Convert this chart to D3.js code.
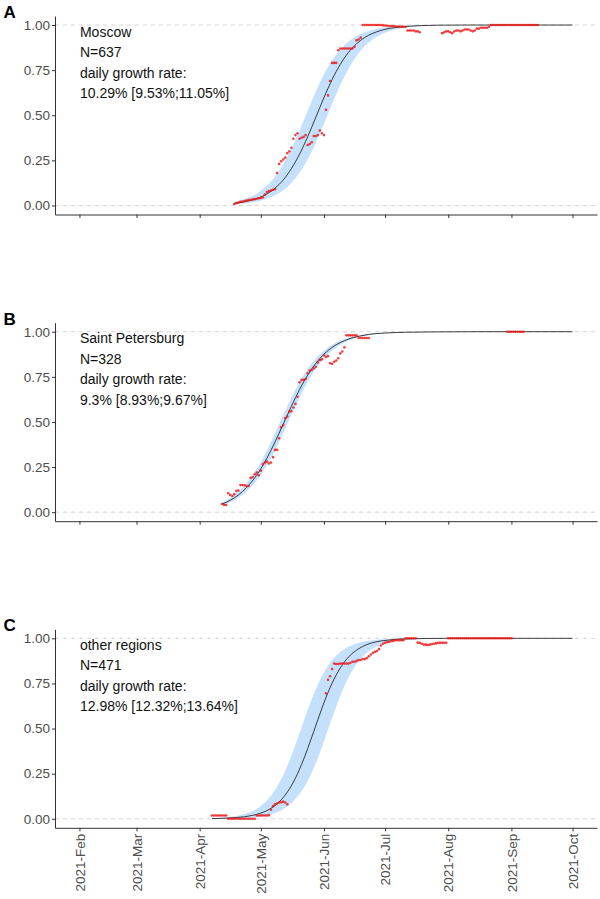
<!DOCTYPE html>
<html>
<head>
<meta charset="utf-8">
<script src="https://cdn.jsdelivr.net/npm/d3@7"></script>
<style>
  body { margin: 0; background: #fff; }
  svg { display: block; font-family: Arial, "Liberation Sans", sans-serif; }
</style>
</head>
<body>
<svg id="chart" width="600" height="899"></svg>
<script>
// ---- data ----
const panelLetters = ["A", "B", "C"];
const regionNames = ["Moscow", "Saint Petersburg", "other regions"];
const regionN = ["N=637", "N=328", "N=471"];
const growthRates = ["10.29% [9.53%;11.05%]", "9.3% [8.93%;9.67%]", "12.98% [12.32%;13.64%]"];

const yTicks = [0, 0.25, 0.5, 0.75, 1];
const monthTicks = ["2021-02-01", "2021-03-01", "2021-04-01", "2021-05-01", "2021-06-01",
                    "2021-07-01", "2021-08-01", "2021-09-01", "2021-10-01"];

// fitted curve + ribbon
const moscowFitDates = ["2021-04-18","2021-04-22","2021-04-26","2021-04-30","2021-05-04","2021-05-08","2021-05-12",
  "2021-05-16","2021-05-20","2021-05-24","2021-05-28","2021-06-01","2021-06-05","2021-06-09","2021-06-13","2021-06-17",
  "2021-06-21","2021-06-25","2021-06-29","2021-07-03","2021-07-07","2021-07-11","2021-07-19","2021-07-27","2021-08-10",
  "2021-08-30","2021-10-01"];
const moscowFit = [0.012,0.018,0.028,0.042,0.064,0.096,0.141,0.204,0.284,0.381,0.489,0.598,0.698,0.782,0.848,0.896,
  0.931,0.954,0.970,0.981,0.987,0.992,0.997,0.999,1,1,1];
const moscowHi = [0.021,0.032,0.048,0.073,0.109,0.160,0.228,0.314,0.416,0.525,0.632,0.727,0.805,0.865,0.909,0.939,
  0.960,0.974,0.983,0.989,0.993,0.995,0.998,0.999,1,1,1];
const moscowLo = [0.007,0.010,0.016,0.024,0.037,0.056,0.084,0.125,0.181,0.256,0.348,0.453,0.563,0.667,0.756,0.828,
  0.882,0.921,0.948,0.966,0.978,0.985,0.994,0.998,0.9995,1,1];

const spbFitDates = ["2021-04-12","2021-04-16","2021-04-20","2021-04-24","2021-04-28","2021-05-02","2021-05-06",
  "2021-05-10","2021-05-14","2021-05-18","2021-05-22","2021-05-26","2021-05-30","2021-06-03","2021-06-07","2021-06-11",
  "2021-06-15","2021-06-19","2021-06-23","2021-06-27","2021-07-01","2021-07-11","2021-07-26","2021-08-10","2021-08-30",
  "2021-10-01"];
const spbFit = [0.045,0.066,0.095,0.136,0.190,0.259,0.343,0.438,0.537,0.634,0.721,0.794,0.852,0.896,0.928,0.950,
  0.966,0.977,0.985,0.990,0.993,0.997,0.999,1,1,1];
const spbHi = [0.055,0.079,0.114,0.161,0.223,0.299,0.389,0.488,0.587,0.679,0.760,0.825,0.875,0.913,0.940,0.959,
  0.972,0.981,0.987,0.991,0.994,0.998,0.9995,1,1,1];
const spbLo = [0.037,0.055,0.079,0.114,0.161,0.223,0.299,0.389,0.488,0.587,0.679,0.760,0.825,0.875,0.913,0.940,
  0.959,0.972,0.981,0.987,0.991,0.997,0.999,1,1,1];

const otherFitDates = ["2021-04-07","2021-04-11","2021-04-15","2021-04-19","2021-04-23","2021-04-27","2021-05-01",
  "2021-05-05","2021-05-09","2021-05-13","2021-05-17","2021-05-21","2021-05-25","2021-05-29","2021-06-02","2021-06-06",
  "2021-06-10","2021-06-14","2021-06-18","2021-06-22","2021-06-26","2021-06-30","2021-07-04","2021-07-08","2021-07-12",
  "2021-07-21","2021-07-31","2021-08-15","2021-09-04","2021-10-01"];
const otherFit = [0.001,0.002,0.004,0.007,0.011,0.019,0.031,0.051,0.083,0.132,0.203,0.301,0.420,0.549,0.672,0.775,
  0.853,0.907,0.942,0.965,0.979,0.987,0.992,0.996,0.997,0.999,1,1,1,1];
const otherHi = [0.003,0.006,0.009,0.016,0.026,0.043,0.071,0.114,0.177,0.266,0.379,0.507,0.633,0.744,0.830,0.892,
  0.933,0.959,0.975,0.985,0.991,0.995,0.997,0.998,0.999,1,1,1,1,1];
const otherLo = [0.001,0.001,0.002,0.003,0.005,0.008,0.013,0.022,0.036,0.060,0.097,0.152,0.232,0.337,0.461,0.590,
  0.708,0.803,0.873,0.920,0.951,0.970,0.982,0.989,0.994,0.998,0.9995,1,1,1];

// observed daily proportions, in runs of consecutive days
const moscowRunStarts = ["2021-04-18", "2021-07-29"];
const moscowRunValues = [
  [0.008,0.012,0.016,0.02,0.022,0.025,0.027,0.03,0.032,0.034,0.035,0.037,0.04,0.042,
   0.045,0.06,0.074,0.08,0.083,0.087,0.09,
   0.18,0.23,0.245,0.255,0.265,0.29,0.30,0.32,0.37,0.39,0.40,
   0.37,0.375,0.38,0.39,0.335,0.34,0.35,0.385,0.385,0.39,0.415,0.40,0.39,
   0.53,0.61,0.69,0.79,0.79,0.79,0.86,0.87,0.87,0.87,0.87,0.87,0.87,0.87,0.88,0.915,0.92,0.93,
   1,1,1,1,1,1,1,1,1,1,
   0.998,0.997,0.996,0.995,0.995,0.994,0.993,0.992,0.992,0.991,0.99,0.99,
   0.97,0.97,0.97,0.97,0.965,0.965,0.96],
  [0.955,0.96,0.965,0.965,0.96,0.955,0.965,0.97,0.97,0.965,0.97,0.975,0.975,0.975,0.97,0.965,
   0.97,0.98,0.98,0.985,0.985,0.985,0.985,0.99,
   1,1,1,1,1,1,1,1,1,1,1,1,1,1,1,1,1,1,1,1,1,1,1,1]
];

const spbRunStarts = ["2021-04-12", "2021-08-30"];
const spbRunValues = [
  [0.045,0.04,0.04,0.105,0.095,0.09,0.1,0.118,0.12,
   0.15,0.15,0.15,0.145,0.145,0.19,0.195,0.21,0.22,0.205,
   0.23,0.265,0.275,0.28,0.27,0.275,0.305,0.345,0.345,
   0.41,0.47,0.483,0.52,0.53,0.557,0.56,0.58,0.60,0.64,
   0.72,0.733,0.733,0.738,0.77,0.785,0.788,0.797,0.806,0.83,0.843,0.847,0.87,0.86,0.865,
   0.825,0.822,0.834,0.84,0.853,0.88,0.89,0.913,
   0.98,0.98,0.98,0.98,0.98,0.98,
   0.965,0.965,0.965,0.965,0.965,0.965],
  [1,1,1,1,1,1,1,1,1]
];

const otherRunStarts = ["2021-04-07", "2021-06-02"];
const otherRunValues = [
  [0.018,0.018,0.018,0.018,0.018,0.018,0.018,0.018,
   0,0,0,0,0,0,0,0,0,0,0,0,0,0,
   0.018,0.018,0.018,0.018,0.018,0.018,0.02,
   0.05,0.07,0.08,0.085,0.09,0.092,0.095,0.09,0.08],
  [0.695,0.77,0.79,0.83,0.86,
   0.858,0.858,0.86,0.86,0.86,0.86,0.86,0.865,0.87,0.87,0.875,0.88,0.88,0.885,0.885,0.89,0.9,0.91,0.92,0.925,0.93,
   0.94,0.96,0.97,0.975,0.98,0.98,0.985,0.985,0.99,0.99,0.99,0.99,0.99,
   1,1,1,1,1,1,
   0.976,0.975,0.97,0.965,0.965,0.963,0.965,0.968,0.97,0.972,0.975,0.975,0.975,0.975,0.975,
   1,1,1,1,1,1,1,1,1,1,1,1,1,1,1,1,1,1,1,1,1,1,1,1,1,1,1,1,1,1,1,1]
];

// ---- build panels ----
const parse = d3.utcParse("%Y-%m-%d");

function fitTable(dates, fit, lo, hi) {
  return dates.map((d, i) => ({ date: parse(d), fit: fit[i], lo: lo[i], hi: hi[i] }));
}
function pointTable(starts, runs) {
  const out = [];
  starts.forEach((s, r) => {
    runs[r].forEach((v, i) => out.push({ date: d3.utcDay.offset(parse(s), i), value: v }));
  });
  return out;
}

const panels = [
  { fit: fitTable(moscowFitDates, moscowFit, moscowLo, moscowHi), pts: pointTable(moscowRunStarts, moscowRunValues) },
  { fit: fitTable(spbFitDates, spbFit, spbLo, spbHi), pts: pointTable(spbRunStarts, spbRunValues) },
  { fit: fitTable(otherFitDates, otherFit, otherLo, otherHi), pts: pointTable(otherRunStarts, otherRunValues) }
];

const panelTops = [16, 322.7, 629.3];
const plotH = 198.5;
const left = 55, right = 597;

const svg = d3.select("#chart");

const x = d3.scaleUtc()
  .domain([parse("2021-01-20"), parse("2021-10-13")])
  .range([left, right]);

panels.forEach((p, k) => {
  const top = panelTops[k];
  const bottom = top + plotH;
  const y = d3.scaleLinear().domain([-0.05, 1.05]).range([bottom, top]);
  const g = svg.append("g");

  // dashed reference lines at 0 and 1
  g.selectAll("line.ref")
    .data([0, 1])
    .join("line")
    .attr("x1", left).attr("x2", right)
    .attr("y1", d => y(d)).attr("y2", d => y(d))
    .attr("stroke", "#cfcfcf")
    .attr("stroke-width", 0.9)
    .attr("stroke-dasharray", "4,4");

  // ribbon
  const area = d3.area()
    .curve(d3.curveMonotoneX)
    .x(d => x(d.date))
    .y0(d => y(d.lo))
    .y1(d => y(d.hi));
  g.append("path")
    .datum(p.fit)
    .attr("fill", "#c5e0fa")
    .attr("d", area);

  // fitted curve
  const line = d3.line()
    .curve(d3.curveMonotoneX)
    .x(d => x(d.date))
    .y(d => y(d.fit));
  g.append("path")
    .datum(p.fit)
    .attr("fill", "none")
    .attr("stroke", "#111")
    .attr("stroke-width", 0.8)
    .attr("d", line);

  // observed points
  g.selectAll("circle")
    .data(p.pts)
    .join("circle")
    .attr("cx", d => x(d.date))
    .attr("cy", d => y(d.value))
    .attr("r", 1.3)
    .attr("fill", "#ee1111")
    .attr("fill-opacity", 0.8);

  // axes
  const yAxis = g.append("g")
    .attr("transform", "translate(" + left + ",0)")
    .call(d3.axisLeft(y).tickValues(yTicks).tickFormat(d3.format(".2f")).tickSize(3).tickSizeOuter(0).tickPadding(2));
  yAxis.selectAll("text").attr("fill", "#4d4d4d").style("font-size", "13.5px");

  const xAxis = g.append("g")
    .attr("transform", "translate(0," + bottom + ")")
    .call(d3.axisBottom(x)
      .tickValues(monthTicks.map(parse))
      .tickFormat(k === 2 ? d3.utcFormat("%Y-%b") : "")
      .tickSize(3.5)
      .tickSizeOuter(0));
  xAxis.selectAll("text")
    .attr("transform", "rotate(-90)")
    .attr("x", -6)
    .attr("y", 0)
    .attr("dy", "0.35em")
    .style("text-anchor", "end")
    .style("font-size", "13.5px")
    .attr("fill", "#4d4d4d");

  [yAxis, xAxis].forEach(a => {
    a.select(".domain").attr("stroke", "#333");
    a.selectAll(".tick line").attr("stroke", "#333");
  });

  // annotation
  const noteX = x(parse("2021-02-01")) + 0.5;
  const lines = [regionNames[k], regionN[k], "daily growth rate:", growthRates[k]];
  g.selectAll("text.note")
    .data(lines)
    .join("text")
    .attr("class", "note")
    .attr("x", noteX)
    .attr("y", (d, i) => top + 20.5 + i * 20.5)
    .attr("fill", "#111")
    .style("font-size", "14px")
    .text(d => d);

  // panel letter
  g.append("text")
    .attr("x", 3.5)
    .attr("y", top + 2)
    .style("font-size", "17px")
    .style("font-weight", "bold")
    .text(panelLetters[k]);
});
</script>
</body>
</html>
